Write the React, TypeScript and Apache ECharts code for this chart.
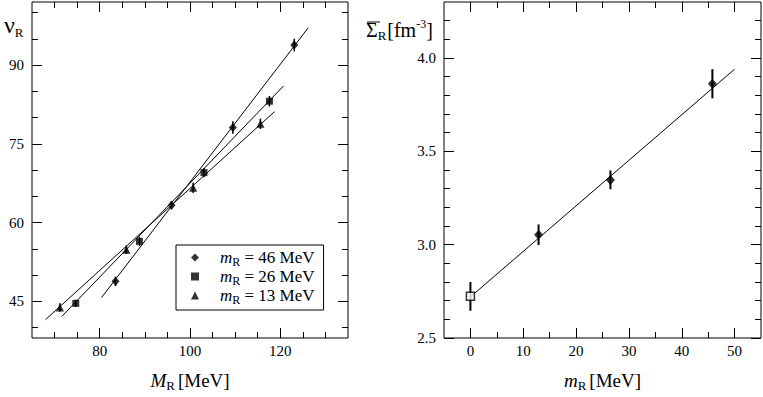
import React, { useEffect, useRef } from "react";
import * as echarts from "echarts";

const FONT = "Liberation Serif";

// ---- left panel data (nu_R vs M_R) ----
const legendMasses = ["46", "26", "13"];
const m46X = [83.5, 95.9, 109.5, 123.1];
const m46Y = [48.8, 63.3, 78.1, 93.8];
const m46Err = [0.9, 0.8, 1.2, 1.2];
const m26X = [74.7, 88.8, 103.1, 117.6];
const m26Y = [44.6, 56.4, 69.5, 83.1];
const m26Err = [0.7, 0.9, 0.9, 1.0];
const m13X = [71.2, 85.9, 100.7, 115.6];
const m13Y = [43.8, 54.8, 66.6, 78.8];
const m13Err = [0.8, 0.8, 1.0, 1.0];
const fit46 = [[80.4, 45.7], [126.2, 97.1]];
const fit26 = [[71.6, 42.1], [120.7, 86.0]];
const fit13 = [[68.0, 41.5], [118.7, 81.1]];

// ---- right panel data (Sigma_R vs m_R) ----
const chiralX = [0];
const chiralY = [2.723];
const chiralErr = [0.077];
const sigX = [12.9, 26.5, 45.8];
const sigY = [3.053, 3.347, 3.862];
const sigErr = [0.055, 0.05, 0.078];
const sigFit = [[0, 2.72], [50, 3.94]];

// ---- axes ----
const lxMin = 65, lxMax = 135;
const lxMajor = [80, 100, 120];
const lxMinor = [70, 75, 85, 90, 95, 105, 110, 115, 125, 130];
const lyMin = 38, lyMax = 102;
const lyMajor = [45, 60, 75, 90];
const lyMinor = [40, 50, 55, 65, 70, 80, 85, 95, 100];
const rxMin = -5, rxMax = 55;
const rxMajor = [0, 10, 20, 30, 40, 50];
const rxMinor = [5, 15, 25, 35, 45];
const ryMin = 2.5, ryMax = 4.3;
const ryMajor = [2.5, 3.0, 3.5, 4.0];
const ryMinor = [2.6, 2.7, 2.8, 2.9, 3.1, 3.2, 3.3, 3.4, 3.6, 3.7, 3.8, 3.9, 4.1, 4.2];

const zip = (xs: number[], ys: number[]) => xs.map((x, i) => [x, ys[i]]);
const zip3 = (xs: number[], ys: number[], es: number[]) => xs.map((x, i) => [x, ys[i], es[i]]);

const nameRich: any = {
  b: { fontFamily: FONT, fontSize: 19, lineHeight: 23, verticalAlign: "middle", color: "#000" },
  bi: { fontFamily: FONT, fontSize: 19, fontStyle: "italic", lineHeight: 23, verticalAlign: "middle", color: "#000" },
  s: { fontFamily: FONT, fontSize: 13, lineHeight: 13, verticalAlign: "bottom", color: "#000", padding: [0, 3, 0, 0] },
};

const sigRich: any = {
  b: { fontFamily: FONT, fontSize: 20, lineHeight: 24, verticalAlign: "middle", fill: "#000" },
  s: { fontFamily: FONT, fontSize: 13, lineHeight: 13, verticalAlign: "bottom", fill: "#000", padding: [0, 1, 0, 0] },
  u: { fontFamily: FONT, fontSize: 12, lineHeight: 21, verticalAlign: "top", fill: "#000" },
};

function makeAxis(kind: "x" | "y", grid: number, pos: string, min: number, max: number, ticks: number[], len: number, labels: boolean, extra: any = {}) {
  return {
    type: "value",
    gridIndex: grid,
    position: pos,
    min,
    max,
    axisLine: { show: false, onZero: false },
    splitLine: { show: false },
    axisTick: { show: true, inside: true, length: len, customValues: ticks, lineStyle: { color: "#000", width: 1 } },
    axisLabel: {
      show: labels,
      customValues: ticks,
      fontFamily: FONT,
      fontSize: 15,
      color: "#000",
      margin: kind === "x" ? 5 : 8,
      formatter: (v: number) => (grid === 1 && kind === "y" ? v.toFixed(1) : String(v)),
    },
    ...extra,
  };
}

function errSeries(data: number[][], xi: number, yi: number, w: number) {
  return {
    type: "custom",
    xAxisIndex: xi,
    yAxisIndex: yi,
    data,
    z: 3,
    renderItem: (params: any, api: any) => {
      const x = api.value(0), y = api.value(1), e = api.value(2);
      const p1 = api.coord([x, y - e]);
      const p2 = api.coord([x, y + e]);
      return {
        type: "line",
        shape: { x1: p1[0], y1: p1[1], x2: p2[0], y2: p2[1] },
        style: { stroke: "#000", lineWidth: w },
      };
    },
  };
}

function lineSeries(data: number[][], xi: number, yi: number) {
  return {
    type: "line",
    xAxisIndex: xi,
    yAxisIndex: yi,
    data,
    symbol: "none",
    lineStyle: { color: "#000", width: 1 },
    z: 2,
  };
}

export default function App() {
  const ref = useRef<HTMLDivElement>(null);
  useEffect(() => {
    if (!ref.current) return;
    const chart = echarts.init(ref.current, null, { renderer: "svg" });
    const legendName = (m: string) => `mR = ${m} MeV`;
    const option: any = {
      animation: false,
      backgroundColor: "#fff",
      textStyle: { fontFamily: FONT },
      grid: [
        { left: 32, top: 2, width: 316, height: 339, show: true, borderColor: "#000", borderWidth: 1, backgroundColor: "transparent" },
        { left: 444, top: 2, width: 317, height: 339, show: true, borderColor: "#000", borderWidth: 1, backgroundColor: "transparent" },
      ],
      xAxis: [
        makeAxis("x", 0, "bottom", lxMin, lxMax, lxMajor, 10, true, {
          name: "{bi|M}{s|R}{b|[MeV]}",
          nameLocation: "middle",
          nameGap: 31,
          nameTextStyle: { rich: nameRich, fontFamily: FONT },
        }),
        makeAxis("x", 0, "bottom", lxMin, lxMax, lxMinor, 6, false),
        makeAxis("x", 0, "top", lxMin, lxMax, lxMajor, 10, false),
        makeAxis("x", 0, "top", lxMin, lxMax, lxMinor, 6, false),
        makeAxis("x", 1, "bottom", rxMin, rxMax, rxMajor, 10, true, {
          name: "{bi|m}{s|R}{b|[MeV]}",
          nameLocation: "middle",
          nameGap: 31,
          nameTextStyle: { rich: nameRich, fontFamily: FONT },
        }),
        makeAxis("x", 1, "bottom", rxMin, rxMax, rxMinor, 6, false),
        makeAxis("x", 1, "top", rxMin, rxMax, rxMajor, 10, false),
        makeAxis("x", 1, "top", rxMin, rxMax, rxMinor, 6, false),
      ],
      yAxis: [
        makeAxis("y", 0, "left", lyMin, lyMax, lyMajor, 10, true),
        makeAxis("y", 0, "left", lyMin, lyMax, lyMinor, 6, false),
        makeAxis("y", 0, "right", lyMin, lyMax, lyMajor, 10, false),
        makeAxis("y", 0, "right", lyMin, lyMax, lyMinor, 6, false),
        makeAxis("y", 1, "left", ryMin, ryMax, ryMajor, 10, true),
        makeAxis("y", 1, "left", ryMin, ryMax, ryMinor, 6, false),
        makeAxis("y", 1, "right", ryMin, ryMax, ryMajor, 10, false),
        makeAxis("y", 1, "right", ryMin, ryMax, ryMinor, 6, false),
      ],
      legend: {
        data: legendMasses.map(legendName),
        orient: "vertical",
        left: 176,
        top: 245,
        padding: [4, 9, 4, 15],
        itemGap: 0,
        itemWidth: 8,
        itemHeight: 8,
        borderColor: "#000",
        borderWidth: 1,
        backgroundColor: "#fff",
        formatter: (name: string) => {
          const m = name.replace("mR = ", "").replace(" MeV", "");
          return `{i|m}{s|R}{t| = ${m} MeV}`;
        },
        textStyle: {
          fontFamily: FONT,
          rich: {
            i: { fontFamily: FONT, fontSize: 17, fontStyle: "italic", lineHeight: 21, verticalAlign: "middle", color: "#000", padding: [0, 0, 0, 16] },
            s: { fontFamily: FONT, fontSize: 12, lineHeight: 12, verticalAlign: "bottom", color: "#000" },
            t: { fontFamily: FONT, fontSize: 17, lineHeight: 21, verticalAlign: "middle", color: "#000" },
          },
        },
      },
      graphic: [
        {
          type: "text",
          x: 4,
          y: 11,
          style: { text: "{g|ν}{s|R}", fontFamily: FONT, rich: { g: { fontFamily: FONT, fontSize: 24, lineHeight: 28, verticalAlign: "middle", fill: "#000" }, s: { fontFamily: FONT, fontSize: 13, lineHeight: 13, verticalAlign: "bottom", fill: "#000" } } },
        },
        {
          type: "text",
          x: 366,
          y: 18,
          style: { text: "{b|Σ}{s|R}{b|[fm}{u|-3}{b|]}", fontFamily: FONT, rich: sigRich },
        },
        { type: "line", shape: { x1: 367, y1: 22, x2: 380, y2: 22 }, style: { stroke: "#000", lineWidth: 1 } },
      ],
      series: [
        lineSeries(fit46, 0, 0),
        lineSeries(fit26, 0, 0),
        lineSeries(fit13, 0, 0),
        errSeries(zip3(m46X, m46Y, m46Err), 0, 0, 1.5),
        errSeries(zip3(m26X, m26Y, m26Err), 0, 0, 1.5),
        errSeries(zip3(m13X, m13Y, m13Err), 0, 0, 1.5),
        { name: legendName("46"), type: "scatter", xAxisIndex: 0, yAxisIndex: 0, data: zip(m46X, m46Y), symbol: "diamond", symbolSize: [8, 9], itemStyle: { color: "#000" }, z: 4 },
        { name: legendName("26"), type: "scatter", xAxisIndex: 0, yAxisIndex: 0, data: zip(m26X, m26Y), symbol: "rect", symbolSize: 7, itemStyle: { color: "#000" }, z: 4 },
        { name: legendName("13"), type: "scatter", xAxisIndex: 0, yAxisIndex: 0, data: zip(m13X, m13Y), symbol: "triangle", symbolSize: 8, itemStyle: { color: "#000" }, z: 4 },
        lineSeries(sigFit, 4, 4),
        errSeries(zip3(chiralX, chiralY, chiralErr), 4, 4, 2),
        errSeries(zip3(sigX, sigY, sigErr), 4, 4, 2),
        { type: "scatter", xAxisIndex: 4, yAxisIndex: 4, data: zip(chiralX, chiralY), symbol: "rect", symbolSize: 8, itemStyle: { color: "#fff", borderColor: "#000", borderWidth: 1.5 }, z: 4 },
        { type: "scatter", xAxisIndex: 4, yAxisIndex: 4, data: zip(sigX, sigY), symbol: "diamond", symbolSize: [9, 10], itemStyle: { color: "#000" }, z: 4 },
      ],
    };
    chart.setOption(option);
    return () => chart.dispose();
  }, []);
  return <div ref={ref} style={{ position: "absolute", left: 0, top: 0, width: 763, height: 397 }} />;
}
